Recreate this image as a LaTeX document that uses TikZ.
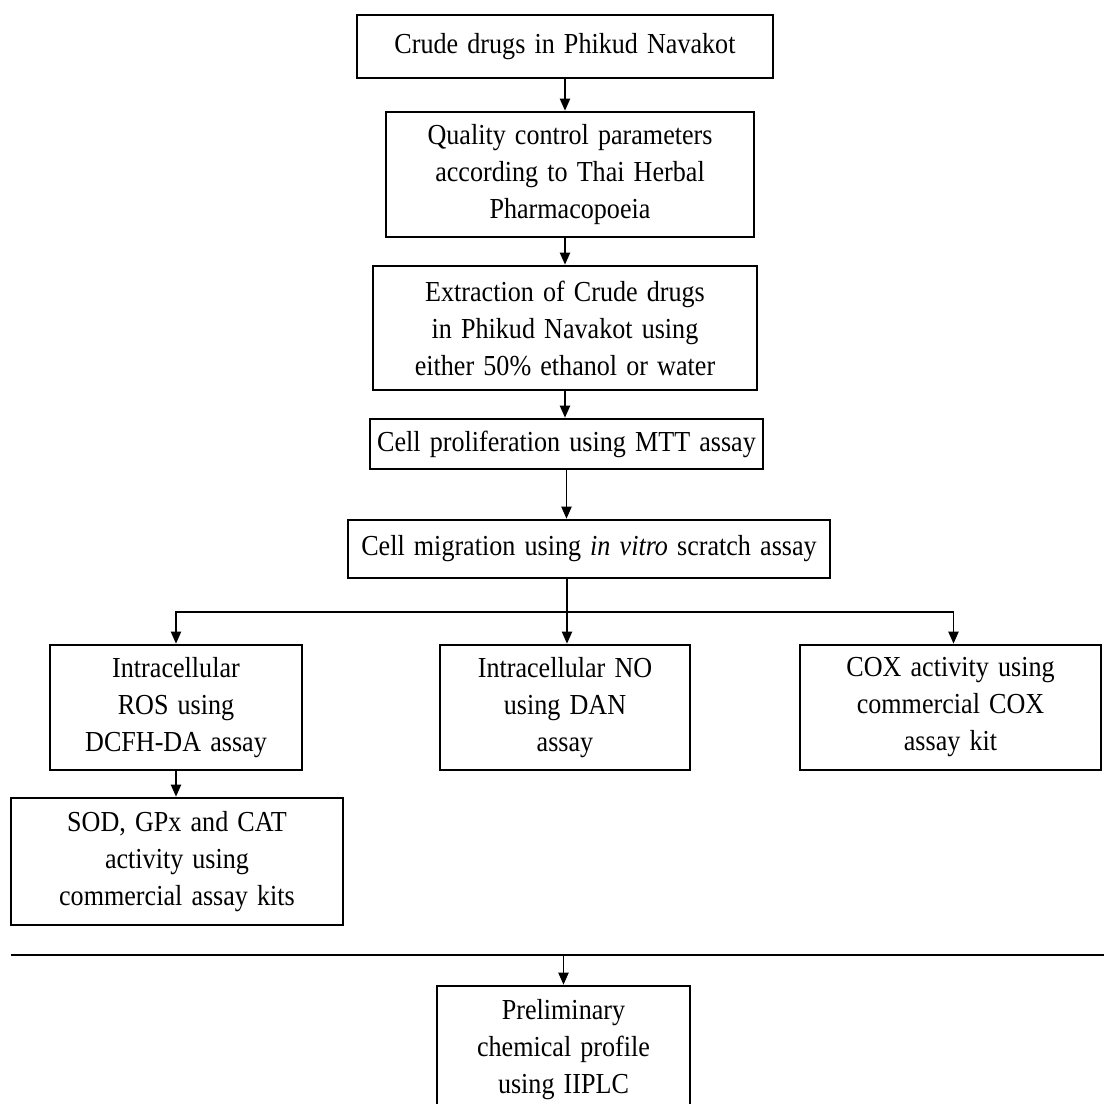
\documentclass[tikz,border=0pt]{standalone}
\usepackage{fontspec}
\setmainfont[FakeStretch=0.9,WordSpace=1.4]{Liberation Serif}
\usetikzlibrary{arrows.meta,calc}

\begin{document}
\begin{tikzpicture}[x=1pt,y=-1pt,
  stagebox/.style={draw,line width=2.6pt,align=center,inner sep=0pt,font=\fontsize{29}{37}\selectfont},
  flow/.style={line width=1.9pt,-{Triangle[length=12pt,width=10pt]}}]
\useasboundingbox (0,0) rectangle (1104,1104);

% main chain
\node[stagebox,minimum width=416,minimum height=63] (crude) at (565,46.5) {Crude drugs in Phikud Navakot};
\node[stagebox,minimum width=368,minimum height=125] (quality) at (570,174.5) {Quality control parameters\\according to Thai Herbal\\Pharmacopoeia};
\node[stagebox,minimum width=384,minimum height=124] (extract) at (565,328) {Extraction of Crude drugs\\in Phikud Navakot using\\either 50\% ethanol or water};
\node[stagebox,minimum width=393,minimum height=50] (prolif) at (566.5,444) {Cell proliferation using MTT assay};
\node[stagebox,minimum width=482,minimum height=58] (migrate) at (589,549) {Cell migration using \textit{in vitro} scratch assay};

\draw[flow] (crude.south) -- (crude.south |- quality.north);
\draw[flow] (crude.south |- quality.south) -- (crude.south |- extract.north);
\draw[flow] (crude.south |- extract.south) -- (crude.south |- prolif.north);
\draw[flow] (prolif.south) -- (prolif.south |- migrate.north);

% branches
\node[stagebox,minimum width=252,minimum height=125] (ros) at (176,707.5) {Intracellular\\ROS using\\DCFH-DA assay};
\node[stagebox,minimum width=250,minimum height=125] (nitric) at (565,707.5) {Intracellular NO\\using DAN\\assay};
\node[stagebox,minimum width=301,minimum height=125] (cox) at (950.5,707.5) {COX activity using\\commercial COX\\assay kit};
\node[stagebox,minimum width=332,minimum height=127] (sod) at (177,861.5) {SOD, GPx and CAT\\activity using\\commercial assay kits};

\coordinate (split) at (567,612);
\draw[line width=1.9pt] (split |- migrate.south) -- (split);
\draw[flow] (split) -| (ros.north);
\draw[flow] (split) -- (split |- nitric.north);
\draw[flow] (split) -| ([xshift=3pt]cox.north);
\draw[flow] (ros.south) -- (ros.south |- sod.north);

% separator and HPLC
\coordinate (ruleL) at (11,955);
\coordinate (ruleR) at (1104,955);
\draw[line width=2.6pt] (ruleL) -- (ruleR);
\node[stagebox,minimum width=253,minimum height=128] (hplc) at (563.5,1050) {Preliminary\\chemical profile\\using IIPLC};
\draw[flow] (hplc.north |- ruleL) -- (hplc.north);
\end{tikzpicture}
\end{document}
